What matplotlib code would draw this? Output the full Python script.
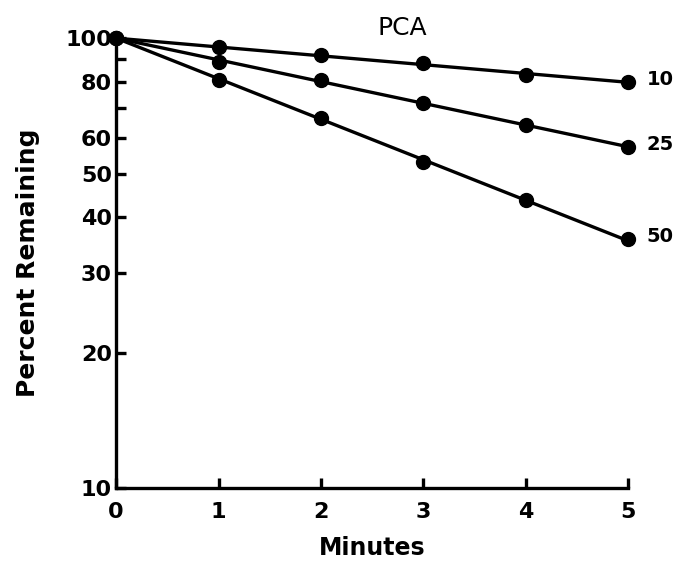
import numpy as np
import matplotlib.pyplot as plt
from matplotlib.ticker import FixedLocator, NullLocator

minutes = [0, 1, 2, 3, 4, 5]
pca_10 = [100, 95.5, 91.7, 88.0, 82.8, 79.8]
pca_25 = [100, 88.4, 80.7, 71.7, 64.1, 57.3]
pca_50 = [100, 80.7, 66.4, 53.0, 43.6, 35.7]
series = [('10', pca_10), ('25', pca_25), ('50', pca_50)]

yticks = [10, 20, 30, 40, 50, 60, 70, 80, 90, 100]
ytick_labels = ['10', '20', '30', '40', '50', '60', '', '80', '', '100']

plt.rcParams['font.family'] = 'DejaVu Sans'
plt.rcParams['font.weight'] = 'bold'

fig = plt.figure(figsize=(6.79, 5.61), dpi=100)
ax = fig.add_axes([0.171, 0.130, 0.754, 0.802])

x = np.array(minutes)
for name, vals in series:
    vals = np.array(vals)
    # straight line on log scale, forced through 100 at t=0
    k = np.sum(x * np.log10(vals / 100)) / np.sum(x * x)
    xf = np.linspace(0, 5, 50)
    ax.plot(xf, 100 * 10 ** (k * xf), color='black', lw=2.4, solid_capstyle='round')
    ax.plot(x, vals, 'o', color='black', ms=10)
    ax.text(5.18, vals[-1] * 1.015, name, fontsize=14, fontweight='bold', va='center', ha='left')

ax.set_yscale('log')
ax.set_ylim(10, 100)
ax.set_xlim(0, 5)
ax.yaxis.set_major_locator(FixedLocator(yticks))
ax.set_yticklabels(ytick_labels)
ax.yaxis.set_minor_locator(NullLocator())
ax.set_xticks(minutes)

ax.spines['top'].set_visible(False)
ax.spines['right'].set_visible(False)
for s in ['left', 'bottom']:
    ax.spines[s].set_linewidth(2.4)
ax.tick_params(direction='in', length=7, width=2.4, labelsize=16)
ax.tick_params(axis='y', pad=3)
ax.tick_params(axis='x', pad=10)
for lab in ax.get_xticklabels() + ax.get_yticklabels():
    lab.set_fontweight('bold')

ax.set_xlabel('Minutes', fontsize=17, fontweight='bold', labelpad=10)
ax.set_ylabel('Percent Remaining', fontsize=18, fontweight='bold', labelpad=18)
ax.text(0.56, 0.995, 'PCA', transform=ax.transAxes, fontsize=18, fontweight='normal',
        ha='center', va='bottom')

for sp in ax.spines.values():
    sp.set_clip_on(False)
for line in ax.lines:
    line.set_clip_on(False)

plt.savefig('out.png', dpi=100)
